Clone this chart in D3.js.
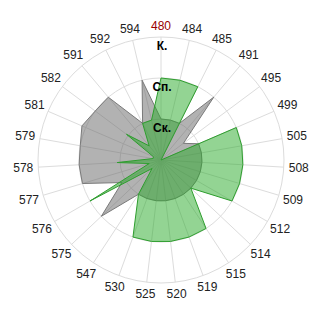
<!DOCTYPE html>
<html><head><meta charset="utf-8">
<script src="https://cdn.jsdelivr.net/npm/d3@7"></script>
<style>body{margin:0;background:#fff}svg{display:block}</style>
</head><body><svg id="c" width="320" height="320"></svg>
<script>
const categories = ["480","484","485","491","495","499","505","508","509","512","514","515","519","520","525","530","547","575","576","577","578","579","581","582","591","592","594"];
const grayValues = [1,1,1,2,0.68,1,1,1,1,1,1,1,1,1,1,1,1,2,1.1,2,2,2,2.1,2,2,1,2];
const greenValues = [2,2,2,0,0,2,2,2,2,2,1,2,2,2,2,2,1,0.3,2,0.3,1.07,0.2,0.2,1.05,0.45,1,1];
const levelValues = [1,2,3];
const levelLabels = ["Ск.","Сп.","К."];
const highlighted = "480";

const cx = 161, cy = 160, R = 123;
const svg = d3.select("#c");
const g = svg.append("g").attr("transform", `translate(${cx},${cy})`);
const n = categories.length;
const angle = d3.scaleLinear().domain([0, n]).range([0, 2 * Math.PI]);
const r = d3.scaleLinear().domain([0, 3]).range([0, R]);

// grid circles
g.selectAll("circle.grid").data(levelValues).join("circle")
  .attr("r", d => r(d)).attr("fill", "none").attr("stroke", "#dcdcdc").attr("stroke-width", 1);
// spokes
g.selectAll("line.spoke").data(categories).join("line")
  .attr("x1", 0).attr("y1", 0)
  .attr("x2", (d, i) => Math.sin(angle(i)) * R)
  .attr("y2", (d, i) => -Math.cos(angle(i)) * R)
  .attr("stroke", "#dcdcdc").attr("stroke-width", 1);

const area = d3.lineRadial()
  .angle((d, i) => angle(i))
  .radius(d => r(d))
  .curve(d3.curveLinearClosed);

g.append("path").datum(grayValues).attr("d", area)
  .attr("fill", "rgba(102,102,102,0.5)").attr("stroke", "#7a7a7a").attr("stroke-width", 1);
g.append("path").datum(greenValues).attr("d", area)
  .attr("fill", "rgba(40,170,40,0.5)").attr("stroke", "#2e9e2e").attr("stroke-width", 1);

// category labels
g.selectAll("text.cat").data(categories).join("text")
  .attr("x", (d, i) => Math.sin(angle(i)) * (134 + 4 * Math.abs(Math.sin(angle(i)))))
  .attr("y", (d, i) => -Math.cos(angle(i)) * (134 + 4 * Math.abs(Math.sin(angle(i)))))
  .attr("text-anchor", "middle").attr("dominant-baseline", "central")
  .attr("font-family", "'Liberation Sans', Arial, sans-serif").attr("font-size", 12)
  .attr("fill", d => d === highlighted ? "#990000" : "#222")
  .text(d => d);

// level labels
g.selectAll("text.lvl").data(levelValues).join("text")
  .attr("x", 1).attr("y", d => -r(d) + 9)
  .attr("text-anchor", "middle").attr("dominant-baseline", "central")
  .attr("font-family", "'Liberation Sans', Arial, sans-serif").attr("font-size", 12)
  .attr("font-weight", "bold").attr("fill", "#000")
  .text((d, i) => levelLabels[i]);
</script></body></html>
